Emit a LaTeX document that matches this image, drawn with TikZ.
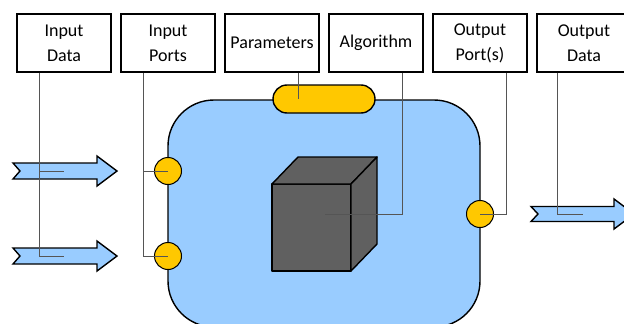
\documentclass[tikz,border=0pt]{standalone}
\usepackage{fontspec}
\setmainfont{Carlito}
\definecolor{bodyblue}{HTML}{99CCFF}
\definecolor{portgold}{HTML}{FFC800}
\definecolor{cubegray}{HTML}{606060}
\definecolor{leadgray}{HTML}{555555}

\begin{document}
\begin{tikzpicture}
			[x=1pt,y=-1pt,
			tag/.style={draw,line width=1.4pt,fill=white,
				minimum width=94pt,minimum height=58pt,inner sep=1pt,
				align=center,font=\fontsize{18}{25}\selectfont},
			port/.style={circle,draw,line width=1pt,fill=portgold,
				minimum size=27pt,inner sep=0pt},
			lead/.style={leadgray,line width=0.9pt},
			flow/.style={draw,line width=1.4pt,fill=bodyblue},
			block/.style={draw,line width=1.4pt,fill=cubegray,line join=round}]
			\useasboundingbox (0,0) rectangle (624,324);
			\clip (0,0) rectangle (624,324);
			% labels
			\node[tag] (indata) at (64,43) {Input\\Data};
			\node[tag] (inports) at (168,43) {Input\\Ports};
			\node[tag] (params) at (272,43) {Parameters};
			\node[tag] (algo) at (376,43) {Algorithm};
			\node[tag] (outports) at (480,43) {Output\\Port(s)};
			\node[tag] (outdata) at (584,43) {Output\\Data};
			% component
			\node[draw,line width=1.4pt,fill=bodyblue,rounded corners=46pt,
				minimum width=312pt,minimum height=227pt] (comp) at (324,213.5) {};
			\node[draw,line width=1.4pt,fill=portgold,rounded corners=14pt,
				minimum width=102pt,minimum height=28pt] (pill) at (324,99) {};
			\node[port] (p1) at (168,171) {};
			\node[port] (p2) at (168,256) {};
			\node[port] (q) at (480,214) {};
			% cube
			\draw[block] (272,184) rectangle (351,271);
			\draw[block] (272,184) -- (298,157) -- (377,157) -- (351,184) -- cycle;
			\draw[block] (351,184) -- (377,157) -- (377,244) -- (351,271) -- cycle;
			\coordinate (cube) at (324.5,214);
			% data arrows
			\foreach \y/\n in {171/data1,256/data2}{
				\draw[flow] (13,\y-8) -- (97,\y-8) -- (97,\y-15) -- (117,\y)
					-- (97,\y+15) -- (97,\y+8) -- (13,\y+8) -- (20,\y) -- cycle;
				\coordinate (\n) at (64,\y);
			}
			\draw[flow] (531,206.5) -- (614,206.5) -- (614,199) -- (634,214)
				-- (614,229) -- (614,221.5) -- (531,221.5) -- (538,214) -- cycle;
			\coordinate (dataout) at (583,214);
			% leads
			\coordinate (la) at ([xshift=-25pt]indata.south);
			\coordinate (lb) at ([xshift=-25pt]inports.south);
			\coordinate (lc) at ([xshift=26pt]params.south);
			\coordinate (ld) at ([xshift=26pt]algo.south);
			\coordinate (le) at ([xshift=26pt]outports.south);
			\coordinate (lf) at ([xshift=-27pt]outdata.south);
			\draw[lead] (la) |- (data2);
			\draw[lead] (la |- data1) -- (data1);
			\draw[lead] (lb) |- (p2.center);
			\draw[lead] (lb |- p1) -- (p1.center);
			\draw[lead] (lc) -- (lc |- pill);
			\draw[lead] (ld) |- (cube);
			\draw[lead] (le) |- (q.center);
			\draw[lead] (lf) |- (dataout);
		\end{tikzpicture}
\end{document}
